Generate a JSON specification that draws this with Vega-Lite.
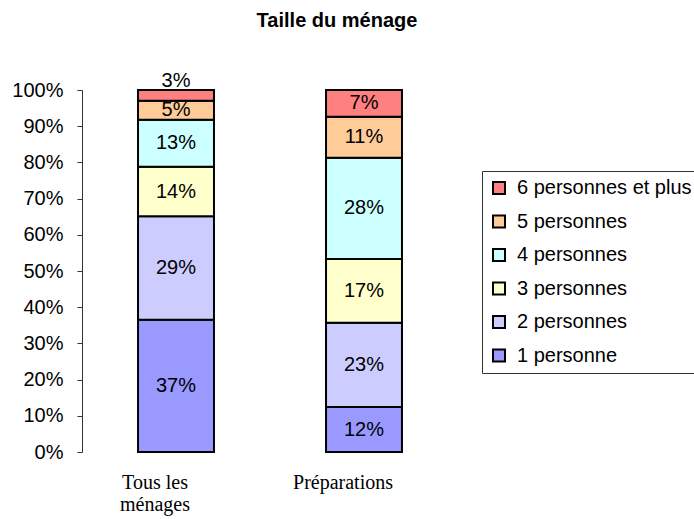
{
  "$schema": "https://vega.github.io/schema/vega-lite/v6.json",
  "width": 376,
  "height": 362,
  "autosize": {"type": "none"},
  "padding": {"left": 82, "top": 90, "right": 236, "bottom": 67},
  "background": "white",
  "config": {
    "view": {"stroke": null},
    "font": "Liberation Sans",
    "axisY": {
      "title": null,
      "format": ".0%",
      "values": [0, 0.1, 0.2, 0.3, 0.4, 0.5, 0.6, 0.7, 0.8, 0.9, 1],
      "labelOverlap": false,
      "grid": false,
      "domainColor": "#333",
      "tickColor": "#333",
      "tickSize": 5,
      "labelPadding": 14,
      "labelFontSize": 20,
      "labelColor": "#000",
      "labelFont": "Liberation Sans"
    }
  },
  "title": {
    "text": "Taille du ménage",
    "font": "Liberation Sans",
    "fontSize": 20,
    "fontWeight": "bold",
    "color": "#000",
    "anchor": "middle",
    "frame": "group",
    "dx": 67,
    "offset": 40
  },
  "data": {
    "values": [
      {"cat": "Tous les ménages", "taille": "1 personne", "value": 36.5, "label": "37%"},
      {"cat": "Tous les ménages", "taille": "2 personnes", "value": 28.6, "label": "29%"},
      {"cat": "Tous les ménages", "taille": "3 personnes", "value": 13.7, "label": "14%"},
      {"cat": "Tous les ménages", "taille": "4 personnes", "value": 13.0, "label": "13%"},
      {"cat": "Tous les ménages", "taille": "5 personnes", "value": 5.2, "label": "5%"},
      {"cat": "Tous les ménages", "taille": "6 personnes et plus", "value": 3.0, "label": "3%"},
      {"cat": "Préparations", "taille": "1 personne", "value": 12.4, "label": "12%"},
      {"cat": "Préparations", "taille": "2 personnes", "value": 23.3, "label": "23%"},
      {"cat": "Préparations", "taille": "3 personnes", "value": 17.6, "label": "17%"},
      {"cat": "Préparations", "taille": "4 personnes", "value": 28.0, "label": "28%"},
      {"cat": "Préparations", "taille": "5 personnes", "value": 11.3, "label": "11%"},
      {"cat": "Préparations", "taille": "6 personnes et plus", "value": 7.4, "label": "7%"}
    ]
  },
  "transform": [
    {"stack": "value", "groupby": ["cat"], "sort": [{"field": "taille", "order": "ascending"}], "offset": "normalize", "as": ["y0", "y1"]},
    {"calculate": "(datum.y0 + datum.y1) / 2", "as": "ymid"}
  ],
  "encoding": {
    "x": {
      "field": "cat",
      "type": "nominal",
      "sort": ["Tous les ménages", "Préparations"],
      "scale": {"paddingInner": 0.596, "paddingOuter": 0.298},
      "axis": {
        "title": null,
        "domain": false,
        "ticks": false,
        "labelAngle": 0,
        "labelFont": "Liberation Serif",
        "labelFontSize": 20,
        "labelColor": "#000",
        "labelPadding": 20,
        "labelOffset": -21,
        "labelLineHeight": 22,
        "labelExpr": "datum.value == 'Tous les ménages' ? ['Tous les', 'ménages'] : datum.label"
      }
    }
  },
  "layer": [
    {
      "mark": {"type": "bar", "stroke": "#000", "strokeWidth": 2},
      "encoding": {
        "y": {
          "field": "y0",
          "type": "quantitative",
          "scale": {"domain": [0, 1], "nice": false},
          "axis": {"title": null}
        },
        "y2": {"field": "y1"},
        "color": {
          "field": "taille",
          "type": "nominal",
          "scale": {
            "domain": ["6 personnes et plus", "5 personnes", "4 personnes", "3 personnes", "2 personnes", "1 personne"],
            "range": ["#FF8080", "#FFCC99", "#CCFFFF", "#FFFFCC", "#CCCCFF", "#9999FF"]
          },
          "legend": {
            "title": null,
            "orient": "none",
            "legendX": 400,
            "legendY": 81,
            "strokeColor": "#333",
            "padding": 7,
            "symbolType": "square",
            "symbolSize": 144,
            "symbolStrokeColor": "#000",
            "symbolStrokeWidth": 2,
            "symbolOpacity": 1,
            "labelFontSize": 20,
            "labelFont": "Liberation Sans",
            "labelColor": "#000",
            "labelOffset": 8,
            "rowPadding": 13.5,
            "labelLimit": 400
          }
        }
      }
    },
    {
      "transform": [{"filter": "datum.label != '3%'"}],
      "mark": {"type": "text", "fontSize": 20, "font": "Liberation Sans", "color": "#000"},
      "encoding": {
        "y": {"field": "ymid", "type": "quantitative", "axis": {"title": null}},
        "text": {"field": "label"}
      }
    },
    {
      "transform": [{"filter": "datum.label == '3%'"}],
      "mark": {"type": "text", "fontSize": 20, "font": "Liberation Sans", "color": "#000", "dy": -14},
      "encoding": {
        "y": {"field": "ymid", "type": "quantitative", "axis": {"title": null}},
        "text": {"field": "label"}
      }
    }
  ]
}
